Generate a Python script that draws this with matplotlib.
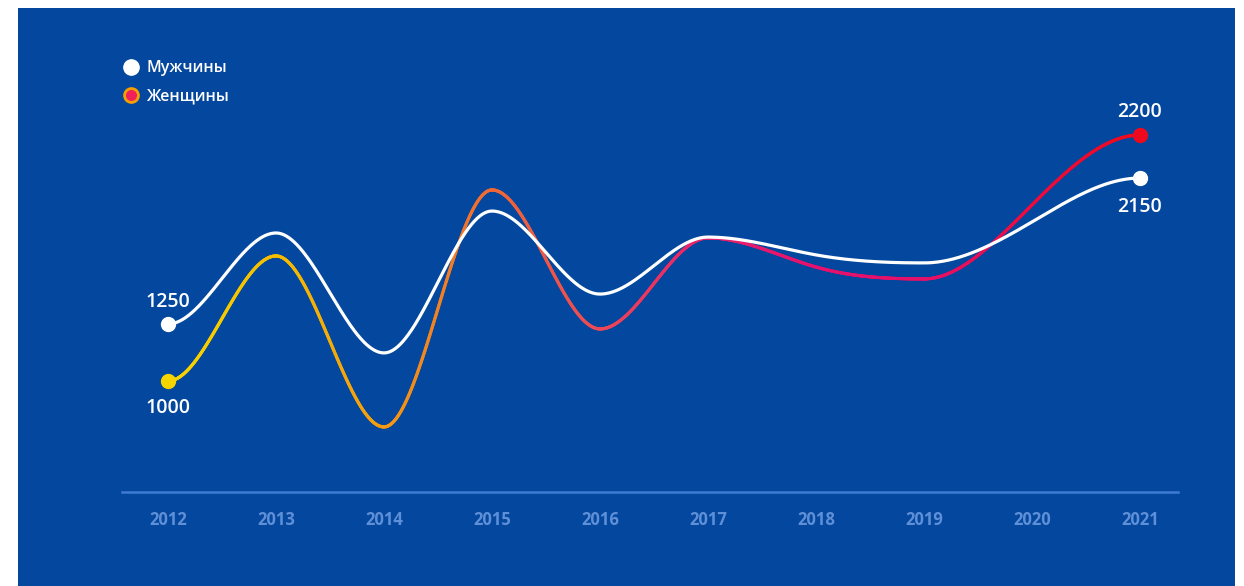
import numpy as np
import matplotlib
matplotlib.use("Agg")
import matplotlib.pyplot as plt
from matplotlib.collections import LineCollection
from matplotlib.colors import LinearSegmentedColormap
from matplotlib.lines import Line2D
from matplotlib.patches import Rectangle

plt.rcParams['font.family'] = ['Open Sans', 'DejaVu Sans']

# data (scale anchored at 1000 and 2200)
years = [2012, 2013, 2014, 2015, 2016, 2017, 2018, 2019, 2020, 2021]
men = [1278, 1722, 1137, 1829, 1424, 1702, 1615, 1576, 1776, 1990]
women = [1000, 1610, 776, 1932, 1254, 1698, 1556, 1498, 1859, 2200]
men_labels = ["1250", "2150"]
women_labels = ["1000", "2200"]
series_names = ["Мужчины", "Женщины"]

BG = "#03479e"
women_colors = ["#f7d600", "#f5bd00", "#f39a12", "#f06835", "#ec4858",
                "#e6216c", "#e4126e", "#e6106a", "#ea0c40", "#ee0a1e"]


def smooth(x, y, xs):
    # monotone-ish cubic hermite, flat at both ends and at turning points
    x = np.asarray(x, float)
    y = np.asarray(y, float)
    h = np.diff(x)
    delta = np.diff(y) / h
    d = np.zeros_like(y)
    for k in range(1, len(x) - 1):
        if delta[k - 1] * delta[k] > 0:
            m = 1.5 * (delta[k - 1] + delta[k]) / 2
            lim = 3 * min(abs(delta[k - 1]), abs(delta[k]))
            d[k] = np.sign(m) * min(abs(m), lim)
    idx = np.clip(np.searchsorted(x, xs) - 1, 0, len(x) - 2)
    t = (xs - x[idx]) / h[idx]
    h00 = 2 * t**3 - 3 * t**2 + 1
    h10 = t**3 - 2 * t**2 + t
    h01 = -2 * t**3 + 3 * t**2
    h11 = t**3 - t**2
    return h00 * y[idx] + h10 * h[idx] * d[idx] + h01 * y[idx + 1] + h11 * h[idx] * d[idx + 1]


W, H = 1244, 586
fig = plt.figure(figsize=(W / 100, H / 100), dpi=100, facecolor="white")
fig.patches.append(Rectangle((18 / W, 0), (1235 - 18) / W, (H - 8) / H,
                             transform=fig.transFigure, facecolor=BG,
                             edgecolor="none", zorder=-5))

ax = fig.add_axes([122 / W, (H - 492) / H, (1178 - 122) / W, (492 - 8) / H])
ax.set_facecolor("none")
ax.set_xlim(2012 - 46 / 108, 2021 + 38 / 108)
ax.set_ylim(458.5, 2819.5)

xs = np.linspace(years[0], years[-1], 1500)
men_s = smooth(years, men, xs)
women_s = smooth(years, women, xs)

# women line with colour gradient
cmap = LinearSegmentedColormap.from_list(
    "w", list(zip(np.linspace(0, 1, len(women_colors)), women_colors)))
pts = np.column_stack([xs, women_s]).reshape(-1, 1, 2)
segs = np.concatenate([pts[:-1], pts[1:]], axis=1)
lc = LineCollection(segs, colors=cmap((xs[:-1] - years[0]) / (years[-1] - years[0])),
                    linewidths=2.3, capstyle="round", zorder=2)
ax.add_collection(lc)

ax.plot(xs, men_s, color="white", lw=2.3, zorder=3, solid_capstyle="round")

# end markers
ax.plot([years[0], years[-1]], [men[0], men[-1]], "o", color="white", ms=10,
        zorder=4, clip_on=False)
ax.plot([years[0]], [women[0]], "o", color=women_colors[0], ms=10, zorder=4)
ax.plot([years[-1]], [women[-1]], "o", color=women_colors[-1], ms=10, zorder=4)

lab = dict(color="white", fontsize=14, fontweight="semibold", ha="center")
ax.annotate(men_labels[0], (years[0], men[0]), xytext=(0, 9),
            textcoords="offset points", va="bottom", **lab)
ax.annotate(women_labels[0], (years[0], women[0]), xytext=(0, -12),
            textcoords="offset points", va="top", **lab)
ax.annotate(women_labels[1], (years[-1], women[-1]), xytext=(0, 9),
            textcoords="offset points", va="bottom", **lab)
ax.annotate(men_labels[1], (years[-1], men[-1]), xytext=(0, -14),
            textcoords="offset points", va="top", **lab)

# axis styling
for s in ["top", "right", "left"]:
    ax.spines[s].set_visible(False)
ax.spines["bottom"].set_color("#3f7bd2")
ax.spines["bottom"].set_linewidth(1.8)
ax.set_yticks([])
ax.set_xticks(years)
ax.set_xticklabels([str(y) for y in years])
ax.tick_params(axis="x", length=0, pad=14, labelsize=12, labelcolor="#5f8fd6")
for t in ax.get_xticklabels():
    t.set_fontweight("bold")

# legend
handles = [
    Line2D([], [], ls="none", marker="o", ms=11, mfc="white", mec="white"),
    Line2D([], [], ls="none", marker="o", ms=10, mfc="#f0205a", mec="#f5a000", mew=2),
]
leg = fig.legend(handles, series_names, loc="upper left",
                 bbox_to_anchor=(115 / W, 1 - 54 / H), frameon=False,
                 fontsize=11.5, handletextpad=0.35, labelspacing=0.75,
                 handlelength=1.2, borderaxespad=0)
for t in leg.get_texts():
    t.set_color("white")
    t.set_fontweight("semibold")

fig.savefig("out.png", dpi=100, facecolor="white")
